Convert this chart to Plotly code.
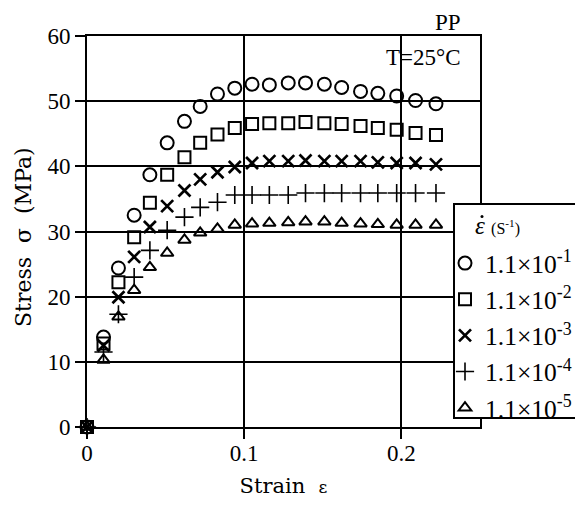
import plotly.graph_objects as go

# ---------------- data ----------------
strain = [0, 0.0105, 0.020, 0.030, 0.040, 0.051, 0.062, 0.072, 0.083, 0.094,
          0.105, 0.116, 0.128, 0.139, 0.151, 0.162, 0.174, 0.185, 0.197, 0.209, 0.222]

stress_r1 = [0, 13.8, 24.4, 32.5, 38.7, 43.6, 46.9, 49.2, 51.1, 52.0,
             52.6, 52.5, 52.8, 52.8, 52.6, 52.1, 51.5, 51.2, 50.8, 50.1, 49.6]
stress_r2 = [0, 12.8, 22.2, 29.1, 34.4, 38.7, 41.4, 43.6, 44.9, 45.9,
             46.5, 46.6, 46.6, 46.8, 46.6, 46.5, 46.2, 45.9, 45.6, 45.1, 44.8]
stress_r3 = [0, 12.5, 19.9, 26.1, 30.7, 33.9, 36.3, 38.0, 39.1, 39.9,
             40.5, 40.8, 40.8, 40.9, 40.8, 40.8, 40.8, 40.6, 40.5, 40.5, 40.3]
stress_r4 = [0, 11.5, 17.3, 23.0, 27.1, 30.2, 32.2, 33.7, 34.5, 35.6,
             35.6, 35.6, 35.6, 35.9, 35.9, 35.9, 35.9, 35.9, 35.9, 35.9, 35.9]
stress_r5 = [0, 10.3, 16.9, 21.0, 24.5, 26.7, 28.7, 29.8, 30.4, 31.0,
             31.2, 31.3, 31.4, 31.5, 31.5, 31.3, 31.2, 31.1, 31.0, 31.0, 31.0]

rate_labels = ["1.1×10<sup>-1</sup>", "1.1×10<sup>-2</sup>", "1.1×10<sup>-3</sup>",
               "1.1×10<sup>-4</sup>", "1.1×10<sup>-5</sup>"]
x_ticks = [0, 0.1, 0.2]
x_ticktext = ["0", "0.1", "0.2"]
y_ticks = [0, 10, 20, 30, 40, 50, 60]

# ---------------- styling ----------------
W, H = 575, 507
ML, MR, MT, MB = 87, 95, 36, 80
PW, PH = W - ML - MR, H - MT - MB


def px_x(p):
    return (p - ML) / PW


def px_y(p):
    return (H - MB - p) / PH


SERIF = "Liberation Serif, Tinos, Times New Roman, serif"
series = [stress_r1, stress_r2, stress_r3, stress_r4, stress_r5]
symbols = ["circle-open", "square-open", "x-thin-open", "cross-thin-open", "triangle-up-open"]
sizes = [13, 12, 12, 13, 11]
widths = [2, 2, 2.7, 1.6, 2]

fig = go.Figure()
for ys, lab, sym, sz, lw in zip(series, rate_labels, symbols, sizes, widths):
    fig.add_trace(go.Scatter(
        x=strain, y=ys, mode="markers", name=lab, cliponaxis=False,
        marker=dict(symbol=sym, size=sz, color="black", line=dict(color="black", width=lw)),
    ))

axis_common = dict(
    showline=True, linecolor="black", linewidth=2, mirror=True,
    showgrid=True, gridcolor="black", gridwidth=1.5, zeroline=False,
    ticks="outside", ticklen=10, tickwidth=1.5, tickcolor="black",
    tickfont=dict(family=SERIF, size=23, color="black"),
)

fig.update_xaxes(range=[0, 0.25], tickvals=x_ticks, ticktext=x_ticktext,
                 ticklabelstandoff=-6,
                 title=dict(text="Strain  <span style='font-size:17px'>ε</span>",
                            font=dict(family="DejaVu Serif", size=21, color="black"), standoff=14),
                 **axis_common)
fig.update_yaxes(range=[0, 60], tickvals=y_ticks, **axis_common)

shapes = [
    # white patch behind the temperature label
    dict(type="rect", xref="paper", yref="paper", x0=px_x(378), x1=px_x(478),
         y0=px_y(72), y1=px_y(37), fillcolor="white", line=dict(width=0), layer="between"),
    # legend frame
    dict(type="rect", xref="paper", yref="paper", x0=px_x(454), x1=px_x(600),
         y0=px_y(418), y1=px_y(204), fillcolor="white", line=dict(color="black", width=2),
         layer="above"),
    # rate dot above the epsilon in the legend title
    dict(type="circle", xref="paper", yref="paper", x0=px_x(480.5), x1=px_x(483.5),
         y0=px_y(218), y1=px_y(215), fillcolor="black", line=dict(width=0), layer="above"),
]

annotations = [
    dict(text="PP", xref="paper", yref="paper", x=px_x(463), y=px_y(22), xanchor="right",
         yanchor="middle", showarrow=False, font=dict(family=SERIF, size=23, color="black")),
    dict(text="T=25°C", xref="paper", yref="paper", x=px_x(463), y=px_y(58), xanchor="right",
         yanchor="middle", showarrow=False, font=dict(family=SERIF, size=23, color="black")),
    dict(text="Stress  σ  (MPa)", xref="paper", yref="paper", x=px_x(23), y=px_y(237),
         xanchor="center", yanchor="middle", textangle=-90, showarrow=False,
         font=dict(family="DejaVu Serif", size=22, color="black")),
    # legend heading (strain rate)
    dict(text="<i>ε</i> <span style='font-size:16px'>(S<sup>-1</sup>)</span>",
         xref="paper", yref="paper", x=px_x(473), y=px_y(225), xanchor="left",
         yanchor="middle", showarrow=False, font=dict(family=SERIF, size=25, color="black")),
]

fig.update_layout(
    width=W, height=H,
    margin=dict(l=ML, r=MR, t=MT, b=MB, autoexpand=False),
    paper_bgcolor="white", plot_bgcolor="white",
    shapes=shapes, annotations=annotations,
    legend=dict(
        x=px_x(445), y=px_y(201), xanchor="left", yanchor="top",
        bgcolor="rgba(0,0,0,0)", borderwidth=0,
        font=dict(family=SERIF, size=25.5, color="black"),
        title=dict(text="&nbsp;", font=dict(family=SERIF, size=30, color="black")),
        itemwidth=30,
    ),
)

fig.write_html("out.html", config={"displayModeBar": False},
               post_script="document.body.style.margin='0';")
